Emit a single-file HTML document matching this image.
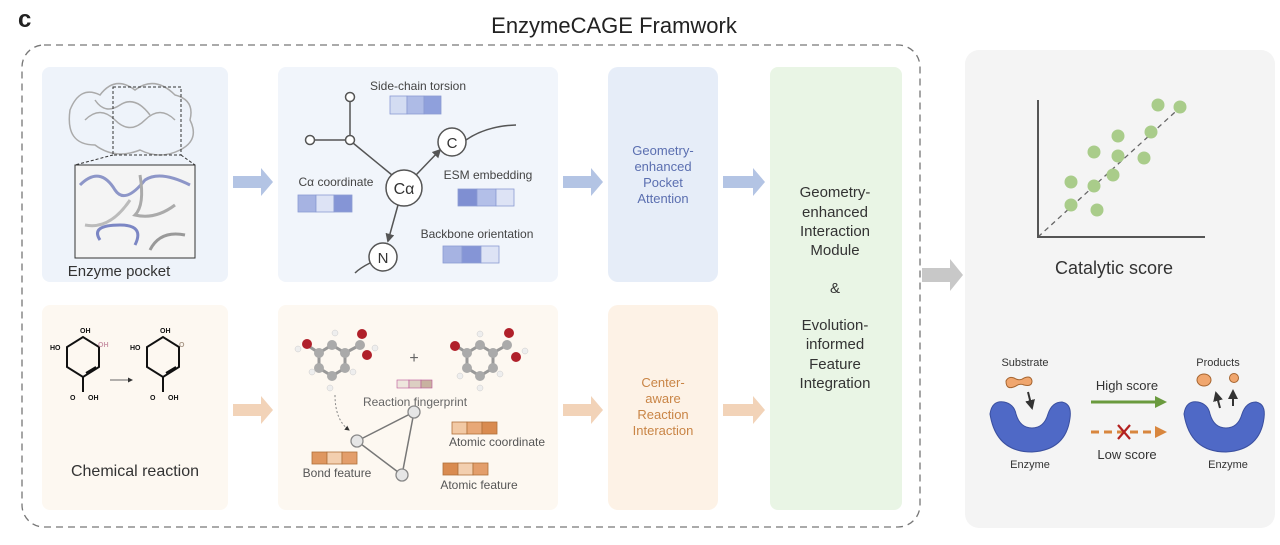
<!DOCTYPE html>
<html><head><meta charset="utf-8"><style>
html,body{margin:0;padding:0;background:#fff;}
svg{display:block;font-family:"Liberation Sans","DejaVu Sans",sans-serif;}
</style></head><body>
<svg width="1280" height="545" viewBox="0 0 1280 545" xmlns="http://www.w3.org/2000/svg">
<defs>
<marker id="ah" viewBox="0 0 10 10" refX="8" refY="5" markerWidth="6" markerHeight="6" orient="auto"><path d="M0,0 L10,5 L0,10 z" fill="#555"/></marker>
<marker id="ahd" viewBox="0 0 10 10" refX="8" refY="5" markerWidth="5" markerHeight="5" orient="auto"><path d="M0,0 L10,5 L0,10 z" fill="#333"/></marker>
</defs>
<rect width="1280" height="545" fill="#fff"/>
<text x="18" y="27" font-size="24" font-weight="bold" fill="#222">c</text>
<text x="614" y="33" font-size="22" fill="#222" text-anchor="middle">EnzymeCAGE Framwork</text>
<rect x="22" y="45" width="898" height="482" rx="22" fill="none" stroke="#777" stroke-width="1.3" stroke-dasharray="7,5"/>

<rect x="42" y="67" width="186" height="215" rx="8" fill="#eef3fa"/>
<rect x="278" y="67" width="280" height="215" rx="8" fill="#f1f5fb"/>
<rect x="608" y="67" width="110" height="215" rx="10" fill="#e6edf8"/>
<rect x="42" y="305" width="186" height="205" rx="8" fill="#fdf8f1"/>
<rect x="278" y="305" width="280" height="205" rx="8" fill="#fdf8f1"/>
<rect x="608" y="305" width="110" height="205" rx="10" fill="#fdf2e6"/>
<rect x="770" y="67" width="132" height="443" rx="8" fill="#e9f5e5"/>
<rect x="965" y="50" width="310" height="478" rx="14" fill="#f4f4f4"/>

<g fill="#b3c4e4">
<path d="M233,176 h28 v-8 l12,14 l-12,14 v-8 h-28 z"/>
<path d="M563,176 h28 v-8 l12,14 l-12,14 v-8 h-28 z"/>
<path d="M723,176 h30 v-8 l12,14 l-12,14 v-8 h-30 z"/>
</g>
<g fill="#f2d3b8">
<path d="M233,404 h28 v-8 l12,14 l-12,14 v-8 h-28 z"/>
<path d="M563,404 h28 v-8 l12,14 l-12,14 v-8 h-28 z"/>
<path d="M723,404 h30 v-8 l12,14 l-12,14 v-8 h-30 z"/>
</g>
<path d="M922,268 h28 v-9 l13,16 l-13,16 v-9 h-28 z" fill="#c8c8c8"/>

<g stroke="#aaa" fill="none" stroke-width="1.5">
<path d="M70,110 q10,-25 30,-15 q15,-20 35,-5 q20,-15 40,5 q20,5 15,25 q10,20 -10,30 q-20,10 -40,0 q-25,10 -45,-5 q-30,0 -25,-35z"/>
<path d="M85,120 q15,-15 30,0 t30,0 t30,0"/>
<path d="M95,100 q10,15 25,5 t30,10"/>
</g>
<rect x="113" y="87" width="68" height="68" fill="none" stroke="#333" stroke-dasharray="3,2"/>
<line x1="113" y1="155" x2="75" y2="165" stroke="#333" stroke-dasharray="3,2"/>
<line x1="181" y1="155" x2="195" y2="165" stroke="#333" stroke-dasharray="3,2"/>
<rect x="75" y="165" width="120" height="93" fill="#f4f4f4" stroke="#333"/>
<g fill="none" stroke-width="3">
<path d="M80,185 q20,-20 35,5 q10,15 30,-10 q15,-10 45,5" stroke="#8d96c8"/>
<path d="M100,240 q-10,-15 20,-15 q25,0 15,20" stroke="#7b86c4"/>
<path d="M140,175 q5,30 -5,40 q20,5 40,-10" stroke="#aaa"/>
<path d="M85,225 q25,5 45,-25" stroke="#bbb"/>
<path d="M150,250 q10,-20 35,-15" stroke="#999"/>
</g>
<text x="119" y="276" font-size="15" fill="#333" text-anchor="middle">Enzyme pocket</text>

<g stroke="#555" stroke-width="1.5" fill="none">
<line x1="350" y1="101" x2="350" y2="136"/>
<line x1="314" y1="140" x2="346" y2="140"/>
<line x1="353" y1="143" x2="392" y2="175"/>
<line x1="416" y1="175" x2="440" y2="150" marker-end="url(#ah)"/>
<line x1="398" y1="205" x2="388" y2="241" marker-end="url(#ah)"/>
<path d="M466,140 q20,-14 50,-15"/>
<path d="M370,263 q-10,5 -15,10"/>
</g>
<g fill="#fff" stroke="#555" stroke-width="1.5">
<circle cx="350" cy="97" r="4.5"/><circle cx="350" cy="140" r="4.5"/><circle cx="310" cy="140" r="4.5"/>
<circle cx="404" cy="188" r="18"/><circle cx="452" cy="142" r="14"/><circle cx="383" cy="257" r="14"/>
</g>
<text x="404" y="194" font-size="16" text-anchor="middle" fill="#333">Cα</text>
<text x="452" y="148" font-size="15" text-anchor="middle" fill="#333">C</text>
<text x="383" y="263" font-size="15" text-anchor="middle" fill="#333">N</text>
<g font-size="12" fill="#444">
<text x="418" y="90" text-anchor="middle">Side-chain torsion</text>
<text x="336" y="186" text-anchor="middle">Cα coordinate</text>
<text x="488" y="179" text-anchor="middle">ESM embedding</text>
<text x="477" y="238" text-anchor="middle">Backbone orientation</text>
</g>
<g stroke="#8b9bd3" stroke-width="0.8">
<rect x="390" y="96" width="17" height="18" fill="#d3dcf2"/><rect x="407" y="96" width="17" height="18" fill="#aebbe6"/><rect x="424" y="96" width="17" height="18" fill="#8fa0dc"/>
<rect x="298" y="195" width="18" height="17" fill="#a6b3e2"/><rect x="316" y="195" width="18" height="17" fill="#dde3f5"/><rect x="334" y="195" width="18" height="17" fill="#8595d6"/>
<rect x="458" y="189" width="19" height="17" fill="#7f8fd2"/><rect x="477" y="189" width="19" height="17" fill="#b3bfe8"/><rect x="496" y="189" width="18" height="17" fill="#dde3f5"/>
<rect x="443" y="246" width="19" height="17" fill="#a6b3e2"/><rect x="462" y="246" width="19" height="17" fill="#8595d6"/><rect x="481" y="246" width="18" height="17" fill="#dde3f5"/>
</g>

<g font-size="13" fill="#5b6fb0" text-anchor="middle">
<text x="663" y="155">Geometry-</text><text x="663" y="171">enhanced</text><text x="663" y="187">Pocket</text><text x="663" y="203">Attention</text>
</g>
<g font-size="13" fill="#c98546" text-anchor="middle">
<text x="663" y="387">Center-</text><text x="663" y="403">aware</text><text x="663" y="419">Reaction</text><text x="663" y="435">Interaction</text>
</g>
<g font-size="15" fill="#333" text-anchor="middle">
<text x="835" y="197">Geometry-</text><text x="835" y="217">enhanced</text><text x="835" y="236">Interaction</text><text x="835" y="255">Module</text>
<text x="835" y="293">&amp;</text>
<text x="835" y="330">Evolution-</text><text x="835" y="349">informed</text><text x="835" y="369">Feature</text><text x="835" y="388">Integration</text>
</g>

<g stroke="#111" stroke-width="2" fill="none">
<path d="M67,367 l0,-20 l16,-10 l16,10 l0,20 l-16,10 z"/>
<line x1="86" y1="373" x2="96" y2="367"/>
<line x1="83" y1="377" x2="83" y2="392"/>
<path d="M147,367 l0,-20 l16,-10 l16,10 l0,20 l-16,10 z"/>
<line x1="166" y1="373" x2="176" y2="367"/>
<line x1="163" y1="377" x2="163" y2="392"/>
</g>
<line x1="110" y1="380" x2="132" y2="380" stroke="#666" stroke-width="1" marker-end="url(#ahd)"/>
<g font-size="7" font-weight="bold" fill="#111">
<text x="50" y="350">HO</text><text x="80" y="333">OH</text><text x="98" y="347" fill="#c9a">OH</text><text x="70" y="400">O</text><text x="88" y="400">OH</text>
<text x="130" y="350">HO</text><text x="160" y="333">OH</text><text x="179" y="347" fill="#a98">O</text><text x="150" y="400">O</text><text x="168" y="400">OH</text>
</g>
<text x="135" y="476" font-size="16" fill="#333" text-anchor="middle">Chemical reaction</text>

<g stroke="#999" stroke-width="3" fill="none">
<path d="M332,345 l13,8 l0,15 l-13,8 l-13,-8 l0,-15 z"/>
<path d="M480,345 l13,8 l0,15 l-13,8 l-13,-8 l0,-15 z"/>
<line x1="345" y1="353" x2="360" y2="345"/><line x1="319" y1="353" x2="307" y2="345"/>
<line x1="493" y1="353" x2="507" y2="345"/><line x1="467" y1="353" x2="455" y2="345"/>
</g>
<g fill="#aaa">
<circle cx="332" cy="345" r="5"/><circle cx="345" cy="353" r="5"/><circle cx="345" cy="368" r="5"/><circle cx="332" cy="376" r="5"/><circle cx="319" cy="368" r="5"/><circle cx="319" cy="353" r="5"/><circle cx="360" cy="345" r="5"/>
<circle cx="480" cy="345" r="5"/><circle cx="493" cy="353" r="5"/><circle cx="493" cy="368" r="5"/><circle cx="480" cy="376" r="5"/><circle cx="467" cy="368" r="5"/><circle cx="467" cy="353" r="5"/><circle cx="507" cy="345" r="5"/>
</g>
<g fill="#b0202a">
<circle cx="307" cy="344" r="5"/><circle cx="362" cy="334" r="5"/><circle cx="367" cy="355" r="5"/>
<circle cx="455" cy="346" r="5"/><circle cx="509" cy="333" r="5"/><circle cx="516" cy="357" r="5"/>
</g>
<g fill="#eee" stroke="#ccc" stroke-width="0.5">
<circle cx="298" cy="349" r="3"/><circle cx="335" cy="333" r="3"/><circle cx="375" cy="348" r="3"/><circle cx="353" cy="372" r="3"/><circle cx="330" cy="388" r="3"/><circle cx="312" cy="372" r="3"/>
<circle cx="480" cy="334" r="3"/><circle cx="525" cy="351" r="3"/><circle cx="500" cy="374" r="3"/><circle cx="480" cy="388" r="3"/><circle cx="460" cy="376" r="3"/>
</g>
<text x="414" y="363" font-size="16" fill="#666" text-anchor="middle">+</text>
<g stroke="#b59" stroke-width="0.6"><rect x="397" y="380" width="12" height="8" fill="#eee6dd"/><rect x="409" y="380" width="12" height="8" fill="#dccfc2"/><rect x="421" y="380" width="11" height="8" fill="#c8b2a0"/></g>
<text x="415" y="406" font-size="12" fill="#666" text-anchor="middle">Reaction fingerprint</text>
<path d="M335,395 q0,25 14,35" stroke="#888" stroke-width="1" stroke-dasharray="2,2" fill="none" marker-end="url(#ahd)"/>
<g stroke="#777" stroke-width="1.5" fill="none"><polygon points="357,441 414,412 402,475"/></g>
<g fill="#e6e6e6" stroke="#888" stroke-width="1.3"><circle cx="357" cy="441" r="6"/><circle cx="414" cy="412" r="6"/><circle cx="402" cy="475" r="6"/></g>
<g stroke="#b0703a" stroke-width="0.8">
<rect x="452" y="422" width="15" height="12" fill="#f2c9a4"/><rect x="467" y="422" width="15" height="12" fill="#e8a877"/><rect x="482" y="422" width="15" height="12" fill="#d98b50"/>
<rect x="312" y="452" width="15" height="12" fill="#df9760"/><rect x="327" y="452" width="15" height="12" fill="#f3cfaf"/><rect x="342" y="452" width="15" height="12" fill="#e39e6b"/>
<rect x="443" y="463" width="15" height="12" fill="#d98b50"/><rect x="458" y="463" width="15" height="12" fill="#f3cfaf"/><rect x="473" y="463" width="15" height="12" fill="#e39e6b"/>
</g>
<g font-size="12" fill="#555">
<text x="497" y="446" text-anchor="middle">Atomic coordinate</text>
<text x="337" y="477" text-anchor="middle">Bond feature</text>
<text x="479" y="489" text-anchor="middle">Atomic feature</text>
</g>

<line x1="1038" y1="237" x2="1185" y2="103" stroke="#666" stroke-width="1.3" stroke-dasharray="5,4"/>
<g fill="#a9cc8a">
<circle cx="1158" cy="105" r="6.5"/><circle cx="1180" cy="107" r="6.5"/><circle cx="1118" cy="136" r="6.5"/><circle cx="1151" cy="132" r="6.5"/>
<circle cx="1094" cy="152" r="6.5"/><circle cx="1118" cy="156" r="6.5"/><circle cx="1144" cy="158" r="6.5"/><circle cx="1113" cy="175" r="6.5"/>
<circle cx="1071" cy="182" r="6.5"/><circle cx="1094" cy="186" r="6.5"/><circle cx="1071" cy="205" r="6.5"/><circle cx="1097" cy="210" r="6.5"/>
</g>
<polyline points="1038,100 1038,237 1205,237" fill="none" stroke="#555" stroke-width="2"/>
<text x="1114" y="274" font-size="18" fill="#333" text-anchor="middle">Catalytic score</text>

<g fill="#4f69c6" stroke="#3b50a0" stroke-width="1">
<path d="M990,414 q2,-14 14,-12 q10,2 12,12 q4,14 16,14 q12,0 16,-14 q4,-12 14,-12 q10,2 8,16 q-4,32 -38,34 q-36,0 -42,-38z"/>
<path d="M1184,414 q2,-14 14,-12 q10,2 12,12 q4,14 16,14 q12,0 16,-14 q4,-12 14,-12 q10,2 8,16 q-4,32 -38,34 q-36,0 -42,-38z"/>
</g>
<path d="M1006,381 q3,-6 10,-2 q4,2 8,-1 q7,-3 8,3 q0,6 -8,4 q-4,-2 -8,1 q-10,5 -10,-5z" fill="#f0a66e" stroke="#a66530" stroke-width="1"/>
<line x1="1028" y1="392" x2="1032" y2="408" stroke="#333" stroke-width="2" marker-end="url(#ahd)"/>
<ellipse cx="1204" cy="380" rx="7" ry="6" fill="#f0a66e" stroke="#a66530"/>
<circle cx="1234" cy="378" r="4.5" fill="#f0a66e" stroke="#a66530"/>
<line x1="1220" y1="408" x2="1216" y2="393" stroke="#333" stroke-width="2" marker-end="url(#ahd)"/>
<line x1="1233" y1="406" x2="1233" y2="391" stroke="#333" stroke-width="2" marker-end="url(#ahd)"/>
<g font-size="11" fill="#333" text-anchor="middle">
<text x="1025" y="366">Substrate</text><text x="1030" y="468">Enzyme</text>
<text x="1218" y="366">Products</text><text x="1228" y="468">Enzyme</text>
</g>
<g font-size="13" fill="#333" text-anchor="middle"><text x="1127" y="390">High score</text><text x="1127" y="459">Low score</text></g>
<line x1="1091" y1="402" x2="1157" y2="402" stroke="#6a9a3e" stroke-width="3"/>
<path d="M1155,396 l12,6 l-12,6z" fill="#6a9a3e"/>
<line x1="1091" y1="432" x2="1157" y2="432" stroke="#d8863e" stroke-width="3" stroke-dasharray="8,5"/>
<path d="M1155,426 l12,6 l-12,6z" fill="#d8863e"/>
<g stroke="#b3201f" stroke-width="2.2"><line x1="1118" y1="425" x2="1130" y2="439"/><line x1="1130" y1="425" x2="1118" y2="439"/></g>
</svg>
</body></html>
